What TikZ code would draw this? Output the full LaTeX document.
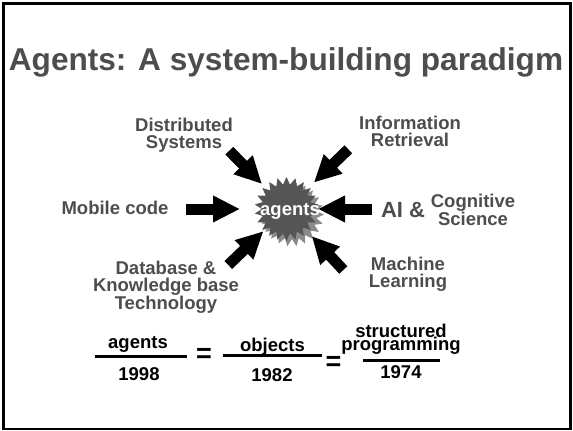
\documentclass[tikz,border=0pt]{standalone}
\usepackage{fontspec}
\setmainfont{Liberation Sans}
\usetikzlibrary{shapes.geometric,arrows.meta}
\definecolor{slidegray}{HTML}{4D4D4D}
\definecolor{burstdark}{HTML}{555555}
\definecolor{burstlight}{HTML}{8A8A8A}

\begin{document}
\begin{tikzpicture}[x=1pt,y=-1pt,
  field/.style={text=slidegray, font=\bfseries\fontsize{18.5}{17}\selectfont, align=center, inner sep=0pt},
  eqtext/.style={font=\bfseries\fontsize{18.5}{18}\selectfont, inner sep=0pt, anchor=base},
  eqsign/.style={font=\bfseries\fontsize{27}{27}\selectfont, inner sep=0pt},
  bigarrow/.style={line width=11pt, -{Triangle[length=27pt,width=25pt]}},
  burst/.style={star, star points=22, star point ratio=1.3, minimum size=64pt, inner sep=0pt}]
\useasboundingbox (0,0) rectangle (573,431);
\draw[line width=2.5pt] (3.5,3.5) rectangle (570.5,429);
\node[text=slidegray, font=\bfseries\fontsize{31.6}{32}\selectfont, inner sep=0pt] (title) at (286,62) {Agents: A system-building paradigm};

\node[burst, fill=burstlight, shape border rotate=8] (burstshadow) at (292,214.5) {};
\node[burst, fill=burstdark] (burst) at (286.5,209) {};
\node[text=white, font=\bfseries\fontsize{18.5}{18}\selectfont, inner sep=0pt] (agents) at (290,211) {agents};

\node[field] (dist) at (184,135) {Distributed\\Systems};
\node[field] (info) at (410,131) {Information\\Retrieval};
\node[field] (mobile) at (115,208) {Mobile code};
\node[field, font=\bfseries\fontsize{22}{22}\selectfont] (ai) at (403,210) {AI \&};
\node[field, font=\bfseries\fontsize{18.5}{15.5}\selectfont] (cog) at (473,210) {Cognitive\\Science};
\node[field] (db) at (166,287) {Database \&\\Knowledge base\\Technology};
\node[field] (ml) at (408,274) {Machine\\Learning};

\coordinate (disttail) at (229.3,150.7);
\coordinate (infotail) at (348.3,149.3);
\coordinate (mobiletail) at (186,209);
\coordinate (aitail) at (371.7,209);
\coordinate (dbtail) at (228.3,265);
\coordinate (mltail) at (343.3,270);
\draw[bigarrow, shorten >=35pt] (disttail) -- (burst.center);
\draw[bigarrow, shorten >=38pt] (infotail) -- (burst.center);
\draw[bigarrow, shorten >=46.5pt] (mobiletail) -- (burst.center);
\draw[bigarrow, shorten >=31.5pt] (aitail) -- (burst.center);
\draw[bigarrow, shorten >=32pt] (dbtail) -- (burst.center);
\draw[bigarrow, shorten >=37pt] (mltail) -- (burst.center);

\node[eqtext] (agnum) at (138,348.3) {agents};
\draw[line width=3pt] (95,356.7) -- (186.7,356.7);
\node[eqtext] (agden) at (139,380) {1998};
\node[eqsign] (eqa) at (204,355) {=};
\node[eqtext] (objnum) at (272.5,351.7) {objects};
\draw[line width=3pt] (223,355) -- (321.7,355);
\node[eqtext] (objden) at (272,381.7) {1982};
\node[eqsign] (eqb) at (333.5,363) {=};
\node[eqtext, anchor=south, align=center, font={\bfseries\fontsize{18.5}{13}\selectfont\setlength{\lineskiplimit}{-20pt}}] (spnum) at (401,354.4) {structured\\programming};
\draw[line width=3pt] (363,360) -- (440,360);
\node[eqtext] (spden) at (401,378.3) {1974};
\end{tikzpicture}
\end{document}
